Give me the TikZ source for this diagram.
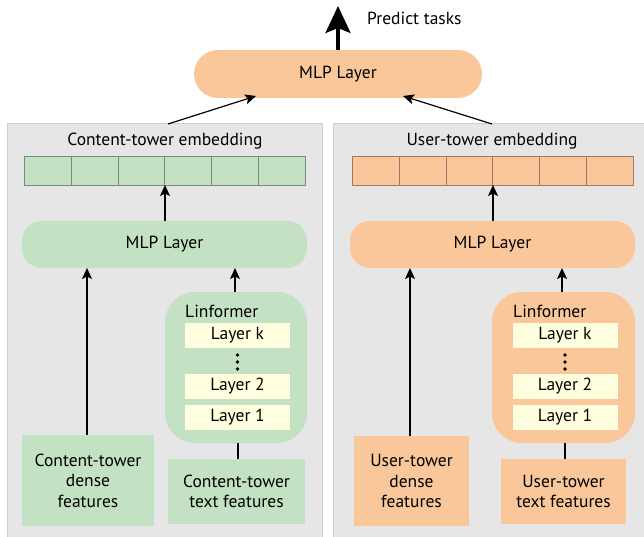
\documentclass[tikz,border=0pt]{standalone}
\usepackage{fontspec}
\setmainfont{PT Sans}
\usetikzlibrary{arrows.meta}
\definecolor{panelgray}{HTML}{E6E6E6}
\definecolor{panelline}{HTML}{CFCFCF}
\definecolor{cgreen}{HTML}{C3E2C3}
\definecolor{corange}{HTML}{F9C79A}
\definecolor{cyellow}{HTML}{FFFFE0}
\definecolor{cellline}{HTML}{7A8A7A}
\definecolor{cellline2}{HTML}{9A7A60}
\tikzset{
  panel/.style={fill=panelgray,draw=panelline,line width=0.6pt},
  txt/.style={font=\fontsize{17.5}{20.5}\selectfont,inner sep=0pt},
  lay/.style={fill=cyellow,draw=none,minimum width=105pt,minimum height=25pt,font=\fontsize{17.5}{20.5}\selectfont,inner sep=0pt},
  feat/.style={draw=none,font=\fontsize{17.5}{20.5}\selectfont,align=center,inner sep=0pt},
  arr/.style={-{Stealth[length=11pt,width=10pt,inset=2.5pt]},line width=1.2pt},
  lin/.style={line width=1.2pt},
  dotc/.style={circle,fill=black,inner sep=0pt,minimum size=3.6pt},
}
\begin{document}
\begin{tikzpicture}[x=1pt,y=-1pt]
\useasboundingbox (0,0) rectangle (644,537);
% panels
\draw[panel] (7,123.5) rectangle (322.5,545);
\draw[panel] (333.5,123.5) rectangle (650,545);

% top MLP
\node[fill=corange,rounded corners=24pt,minimum width=288pt,minimum height=48pt,txt] (topmlp) at (338,74) {MLP Layer};
\coordinate (predict) at (338,6);
\draw[-{Stealth[length=27pt,width=25pt,inset=5pt]},line width=3.2pt] (topmlp.north) -- (predict);
\node[txt,anchor=west] (predlabel) at (367,18) {Predict tasks};

% ---------- left tower ----------
\node[txt] (lemblabel) at (165,141) {Content-tower embedding};
\foreach \i in {0,...,5} {
  \node[fill=cgreen,draw=cellline,line width=0.6pt,minimum width=46.8pt,minimum height=28.5pt,inner sep=0pt,anchor=north west] (lc\i) at ({24+46.8*\i},156.5) {};
}
\coordinate (lemb) at (165,185);
\node[fill=cgreen,rounded corners=20pt,minimum width=285pt,minimum height=47pt,txt] (lmlp) at (164.5,244.5) {MLP Layer};
\draw[arr] (lmlp.north -| lemb) -- (lemb);

\node[fill=cgreen,rounded corners=30pt,minimum width=142pt,minimum height=151pt,inner sep=0pt] (llin) at (236,367.5) {};
\node[txt,anchor=west] (llinlabel) at (185,311) {Linformer};
\node[lay] (llk) at (237.5,335.5) {Layer k};
\node[dotc] (lld1) at (237.5,355) {};
\node[dotc] (lld2) at (237.5,362) {};
\node[dotc] (lld3) at (237.5,369) {};
\node[lay] (ll2) at (237.5,386.5) {Layer 2};
\node[lay] (ll1) at (237.5,417) {Layer 1};

\node[fill=cgreen,feat,minimum width=132pt,minimum height=91pt] (ldense) at (88,480.5) {Content-tower\\dense\\features};
\node[fill=cgreen,feat,minimum width=137pt,minimum height=65pt] (ltext) at (236.5,491.5) {Content-tower\\text features};

\coordinate (la1) at (87,268);
\coordinate (la2) at (235,268);
\draw[arr] (ldense.north -| la1) -- (la1);
\draw[arr] (llin.north -| la2) -- (la2);
\draw[lin] (ltext.north -| 238,0) -- (llin.south -| 238,0);

% ---------- right tower ----------
\node[txt] (remblabel) at (492,141) {User-tower embedding};
\foreach \i in {0,...,5} {
  \node[fill=corange,draw=cellline2,line width=0.6pt,minimum width=46.8pt,minimum height=28.5pt,inner sep=0pt,anchor=north west] (rc\i) at ({352+46.8*\i},156.5) {};
}
\coordinate (remb) at (493,185);
\node[fill=corange,rounded corners=20pt,minimum width=285pt,minimum height=47pt,txt] (rmlp) at (492.5,244.5) {MLP Layer};
\draw[arr] (rmlp.north -| remb) -- (remb);

\node[fill=corange,rounded corners=30pt,minimum width=143pt,minimum height=151pt,inner sep=0pt] (rlin) at (563.5,367.5) {};
\node[txt,anchor=west] (rlinlabel) at (513,311) {Linformer};
\node[lay] (rlk) at (565,335.5) {Layer k};
\node[dotc] (rld1) at (565,355) {};
\node[dotc] (rld2) at (565,362) {};
\node[dotc] (rld3) at (565,369) {};
\node[lay] (rl2) at (565,386.5) {Layer 2};
\node[lay] (rl1) at (565,417) {Layer 1};

\node[fill=corange,feat,minimum width=115pt,minimum height=90pt] (rdense) at (411.5,481) {User-tower\\dense\\features};
\node[fill=corange,feat,minimum width=125pt,minimum height=65pt] (rtext) at (563.5,491.5) {User-tower\\text features};

\coordinate (ra1) at (410,268);
\coordinate (ra2) at (562,268);
\draw[arr] (rdense.north -| ra1) -- (ra1);
\draw[arr] (rlin.north -| ra2) -- (ra2);
\draw[lin] (rtext.north -| 565,0) -- (rlin.south -| 565,0);

% ---------- panel to top MLP ----------
\coordinate (lpt) at (168,124);
\coordinate (rpt) at (492,124);
\coordinate (lend) at (256,96);
\coordinate (rend) at (403,96);
\draw[arr] (lpt) -- (lend);
\draw[arr] (rpt) -- (rend);
\end{tikzpicture}
\end{document}
